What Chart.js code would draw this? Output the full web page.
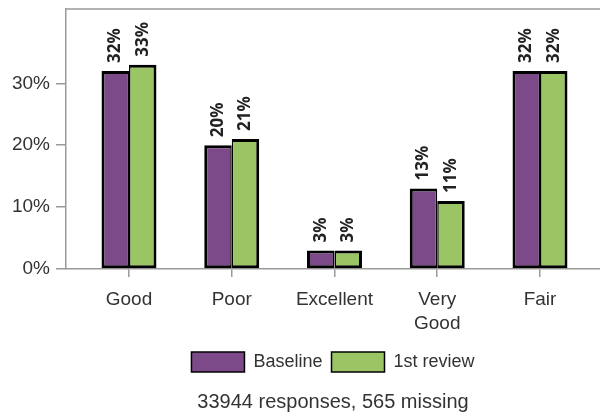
<!DOCTYPE html>
<html>
<head>
<meta charset="utf-8">
<script src="https://cdn.jsdelivr.net/npm/chart.js@4.4.0/dist/chart.umd.min.js"></script>
<style>
  html, body { margin: 0; padding: 0; background: #fff; }
  #wrap { width: 600px; height: 414px; }
</style>
</head>
<body>
<div id="wrap"><canvas id="barchart"></canvas></div>
<script>
var categories = ["Good", "Poor", "Excellent", "Very Good", "Fair"];
var baseline = [32, 20, 3, 13, 32];
var firstReview = [33, 21, 3, 11, 32];
var yTicks = [0, 10, 20, 30];

var purple = "#7d4a89",
  green = "#9bc565",
  axisGrey = "#9a9a9a",
  textCol = "#333";

// labels written sideways above each bar
var barLabels = {
  id: "barLabels",
  afterDatasetsDraw(chart) {
    let ctx = chart.ctx;
    ctx.save();
    ctx.fillStyle = "#222";
    ctx.font = "bold 17px 'Open Sans', sans-serif";
    ctx.textAlign = "left";
    ctx.textBaseline = "middle";
    chart.data.datasets.forEach((ds, i) => {
      chart.getDatasetMeta(i).data.forEach((bar, j) => {
        ctx.save();
        ctx.translate(bar.x, bar.y - 8);
        ctx.rotate(-Math.PI / 2);
        ctx.fillText(ds.data[j].y + "%", 0, 0);
        ctx.restore();
      });
    });
    ctx.restore();
  },
};

// grey line along the top of the plot
var topLine = {
  id: "topLine",
  beforeDatasetsDraw(chart) {
    let a = chart.chartArea, ctx = chart.ctx;
    ctx.save();
    ctx.strokeStyle = axisGrey;
    ctx.lineWidth = 1.5;
    ctx.beginPath();
    ctx.moveTo(a.left, a.top);
    ctx.lineTo(a.right, a.top);
    ctx.stroke();
    ctx.restore();
  },
};

let ctx = document.getElementById("barchart").getContext("2d");

let chart = new Chart(ctx, {
  type: "bar",
  data: {
    datasets: [
      {
        label: "Baseline",
        backgroundColor: purple,
        borderColor: "#000",
        borderWidth: { left: 3, right: 1.5, top: 3, bottom: 3 },
        borderSkipped: false,
        data: baseline.map((v, i) => ({ x: i, y: v })),
      },
      {
        label: "1st review",
        backgroundColor: green,
        borderColor: "#000",
        borderWidth: { left: 1.5, right: 3, top: 3, bottom: 3 },
        borderSkipped: false,
        data: firstReview.map((v, i) => ({ x: i, y: v })),
      },
    ],
  },
  options: {
    responsive: true,
    maintainAspectRatio: false,
    animation: false,
    categoryPercentage: 0.535,
    barPercentage: 1.0,
    layout: { padding: { top: 9, left: 0, right: 0, bottom: 0 } },
    scales: {
      x: {
        type: "linear",
        offset: false,
        min: -0.613,
        max: 4.584,
        afterBuildTicks: (s) => { s.ticks = categories.map((c, i) => ({ value: i })); },
        afterFit: (s) => { s.height = 74; s.paddingLeft = 0; s.paddingRight = 0; },
        border: { display: true, color: axisGrey, width: 1.5 },
        grid: { display: true, offset: false, drawOnChartArea: false, drawTicks: true, tickLength: 8, color: axisGrey, lineWidth: 1.5 },
        ticks: {
          autoSkip: false,
          maxRotation: 0,
          padding: 10,
          color: textCol,
          font: { family: "'Liberation Sans', Arial, sans-serif", size: 19, lineHeight: 1.3 },
          callback: (v) => {
            let name = categories[v];
            return name && name.indexOf(" ") > 0 ? name.split(" ") : name;
          },
        },
      },
      y: {
        min: 0,
        max: 42,
        afterBuildTicks: (s) => { s.ticks = yTicks.map((v) => ({ value: v })); },
        afterFit: (s) => { s.width = 66; s.paddingTop = 0; s.paddingBottom = 0; },
        border: { display: true, color: axisGrey, width: 1.5 },
        grid: { display: true, drawOnChartArea: false, drawTicks: true, tickLength: 10, color: axisGrey, lineWidth: 1.5 },
        ticks: {
          padding: 6,
          color: textCol,
          font: { family: "'Liberation Sans', Arial, sans-serif", size: 19 },
          callback: (v) => v + "%",
        },
      },
    },
    plugins: {
      tooltip: { enabled: false },
      legend: {
        position: "bottom",
        fullSize: false,
        labels: {
          boxWidth: 53,
          boxHeight: 20,
          padding: 9,
          color: textCol,
          font: { family: "'Liberation Sans', Arial, sans-serif", size: 18 },
          generateLabels: (c) =>
            Chart.defaults.plugins.legend.labels.generateLabels(c).map((it) => {
              it.lineWidth = 1.5;
              it.strokeStyle = "#000";
              return it;
            }),
        },
      },
      title: {
        display: true,
        position: "bottom",
        fullSize: false,
        text: "33944 responses, 565 missing",
        color: textCol,
        font: { family: "'Liberation Sans', Arial, sans-serif", size: 20, weight: "normal" },
        padding: { top: 8, bottom: 0 },
      },
    },
  },
  plugins: [barLabels, topLine],
});
</script>
</body>
</html>
